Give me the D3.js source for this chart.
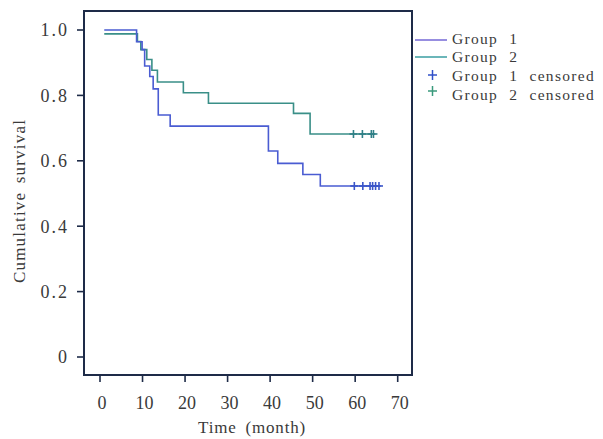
<!DOCTYPE html>
<html>
<head>
<meta charset="utf-8">
<script src="https://cdn.jsdelivr.net/npm/d3@7"></script>
<style>
  html, body { margin: 0; padding: 0; background: #fff; }
  svg { display: block; }
</style>
</head>
<body>
<svg id="chart" width="603" height="439"></svg>
<script>
// ---- data ----
const xTicks = [0, 10, 20, 30, 40, 50, 60, 70];
const yTicks = [0, 0.2, 0.4, 0.6, 0.8, 1.0];
const yTickLabels = ["0", "0.2", "0.4", "0.6", "0.8", "1.0"];

const group1Times = [1, 8.6, 9.9, 10.5, 11.7, 12.5, 13.7, 16.5, 39.6, 41.8, 47.7, 51.8];
const group1Surv  = [1.0, 0.964, 0.94, 0.89, 0.858, 0.82, 0.74, 0.706, 0.63, 0.592, 0.558, 0.523];
const group1End = 66;
const group1Censored = [59.8, 61.8, 63.5, 64.1, 64.8, 65.6];

const group2Times = [1, 8.8, 9.6, 11.0, 12.2, 13.5, 19.6, 25.5, 45.5, 49.4];
const group2Surv  = [0.988, 0.965, 0.94, 0.91, 0.877, 0.841, 0.808, 0.776, 0.745, 0.682];
const group2End = 64.5;
const group2Censored = [59.6, 61.7, 63.8, 64.3];

const legendLabels = ["Group 1", "Group 2", "Group 1 censored", "Group 2 censored"];

// ---- drawing ----
const FONT = "'Liberation Serif', 'DejaVu Serif', serif";
const svg = d3.select("#chart");
const frame = {left: 84, right: 412, top: 11, bottom: 375};
const x = d3.scaleLinear().domain([0, 70]).range([100, 397.7]);
const y = d3.scaleLinear().domain([0, 1]).range([357, 30]);

const c1 = "#4a5cd2", c2 = "#3a8f88";
const frameColor = "#1e2b48";
const textColor = "#3a3a3a";

// frame
svg.append("rect")
  .attr("x", frame.left).attr("y", frame.top)
  .attr("width", frame.right - frame.left).attr("height", frame.bottom - frame.top)
  .attr("fill", "none").attr("stroke", frameColor).attr("stroke-width", 2);

// y ticks
const yAxis = svg.append("g");
yTicks.forEach((v, i) => {
  yAxis.append("line")
    .attr("x1", frame.left - 7).attr("x2", frame.left)
    .attr("y1", y(v)).attr("y2", y(v))
    .attr("stroke", frameColor).attr("stroke-width", 1.6);
  yAxis.append("text")
    .attr("x", 69).attr("y", y(v)).attr("dy", "0.35em")
    .attr("text-anchor", "end")
    .attr("font-family", FONT).attr("fill", textColor)
    .attr("font-size", 18)
    .attr("letter-spacing", 2)
    .text(yTickLabels[i]);
});

// x ticks
const xAxis = svg.append("g");
xTicks.forEach(v => {
  xAxis.append("line")
    .attr("x1", x(v)).attr("x2", x(v))
    .attr("y1", frame.bottom).attr("y2", frame.bottom + 7)
    .attr("stroke", frameColor).attr("stroke-width", 1.6);
  xAxis.append("text")
    .attr("x", x(v) + 2).attr("y", 409)
    .attr("text-anchor", "middle")
    .attr("font-family", FONT).attr("fill", textColor)
    .attr("font-size", 18)
    .text(v);
});

// axis titles
svg.append("text")
  .attr("x", 252).attr("y", 433)
  .attr("text-anchor", "middle")
  .attr("font-family", FONT).attr("fill", textColor)
  .attr("font-size", 17)
  .attr("letter-spacing", 0.8)
  .attr("word-spacing", 4)
  .text("Time (month)");

svg.append("text")
  .attr("transform", "translate(25,201) rotate(-90)")
  .attr("text-anchor", "middle")
  .attr("font-family", FONT).attr("fill", textColor)
  .attr("font-size", 17)
  .attr("letter-spacing", 1.2)
  .attr("word-spacing", 3)
  .text("Cumulative survival");

// KM curves
function stepPoints(times, surv, end) {
  const pts = times.map((t, i) => [t, surv[i]]);
  pts.push([end, surv[surv.length - 1]]);
  return pts;
}
function survAt(times, surv, t) {
  let s = surv[0];
  for (let i = 0; i < times.length; i++) if (times[i] <= t) s = surv[i];
  return s;
}
const line = d3.line().x(d => x(d[0])).y(d => y(d[1])).curve(d3.curveStepAfter);

svg.append("path")
  .attr("d", line(stepPoints(group2Times, group2Surv, group2End)))
  .attr("fill", "none").attr("stroke", c2).attr("stroke-width", 1.6);
svg.append("path")
  .attr("d", line(stepPoints(group1Times, group1Surv, group1End)))
  .attr("fill", "none").attr("stroke", c1).attr("stroke-width", 1.6);

function drawCensor(g, times, surv, cens, color, size) {
  cens.forEach(t => {
    const cx = x(t), cy = y(survAt(times, surv, t));
    g.append("line").attr("x1", cx - size).attr("x2", cx + size)
      .attr("y1", cy).attr("y2", cy).attr("stroke", color).attr("stroke-width", 1.6);
    g.append("line").attr("x1", cx).attr("x2", cx)
      .attr("y1", cy - size).attr("y2", cy + size).attr("stroke", color).attr("stroke-width", 1.6);
  });
}
const cg = svg.append("g");
drawCensor(cg, group2Times, group2Surv, group2Censored, "#2f7f86", 4);
drawCensor(cg, group1Times, group1Surv, group1Censored, "#3a55c8", 4);

// legend
const lg = svg.append("g");
const legendY = [39, 57, 76, 95];
lg.append("line").attr("x1", 415).attr("x2", 447).attr("y1", legendY[0] + 1).attr("y2", legendY[0] + 1)
  .attr("stroke", "#7468d6").attr("stroke-width", 1.5);
lg.append("line").attr("x1", 415).attr("x2", 447).attr("y1", legendY[1]).attr("y2", legendY[1])
  .attr("stroke", "#3a9ea2").attr("stroke-width", 1.5);
[["#3050c8", legendY[2] - 1], ["#3a9a7c", legendY[3] - 4]].forEach(([col, cy]) => {
  lg.append("line").attr("x1", 428).attr("x2", 437).attr("y1", cy).attr("y2", cy)
    .attr("stroke", col).attr("stroke-width", 1.5);
  lg.append("line").attr("x1", 432.5).attr("x2", 432.5).attr("y1", cy - 5).attr("y2", cy + 5)
    .attr("stroke", col).attr("stroke-width", 1.5);
});
legendLabels.forEach((lab, i) => {
  lg.append("text")
    .attr("x", 452).attr("y", legendY[i]).attr("dy", "0.32em")
    .attr("font-family", FONT).attr("fill", textColor)
    .attr("font-size", 15.5)
    .attr("letter-spacing", 1.3)
    .attr("word-spacing", 6)
    .text(lab);
});
</script>
</body>
</html>
